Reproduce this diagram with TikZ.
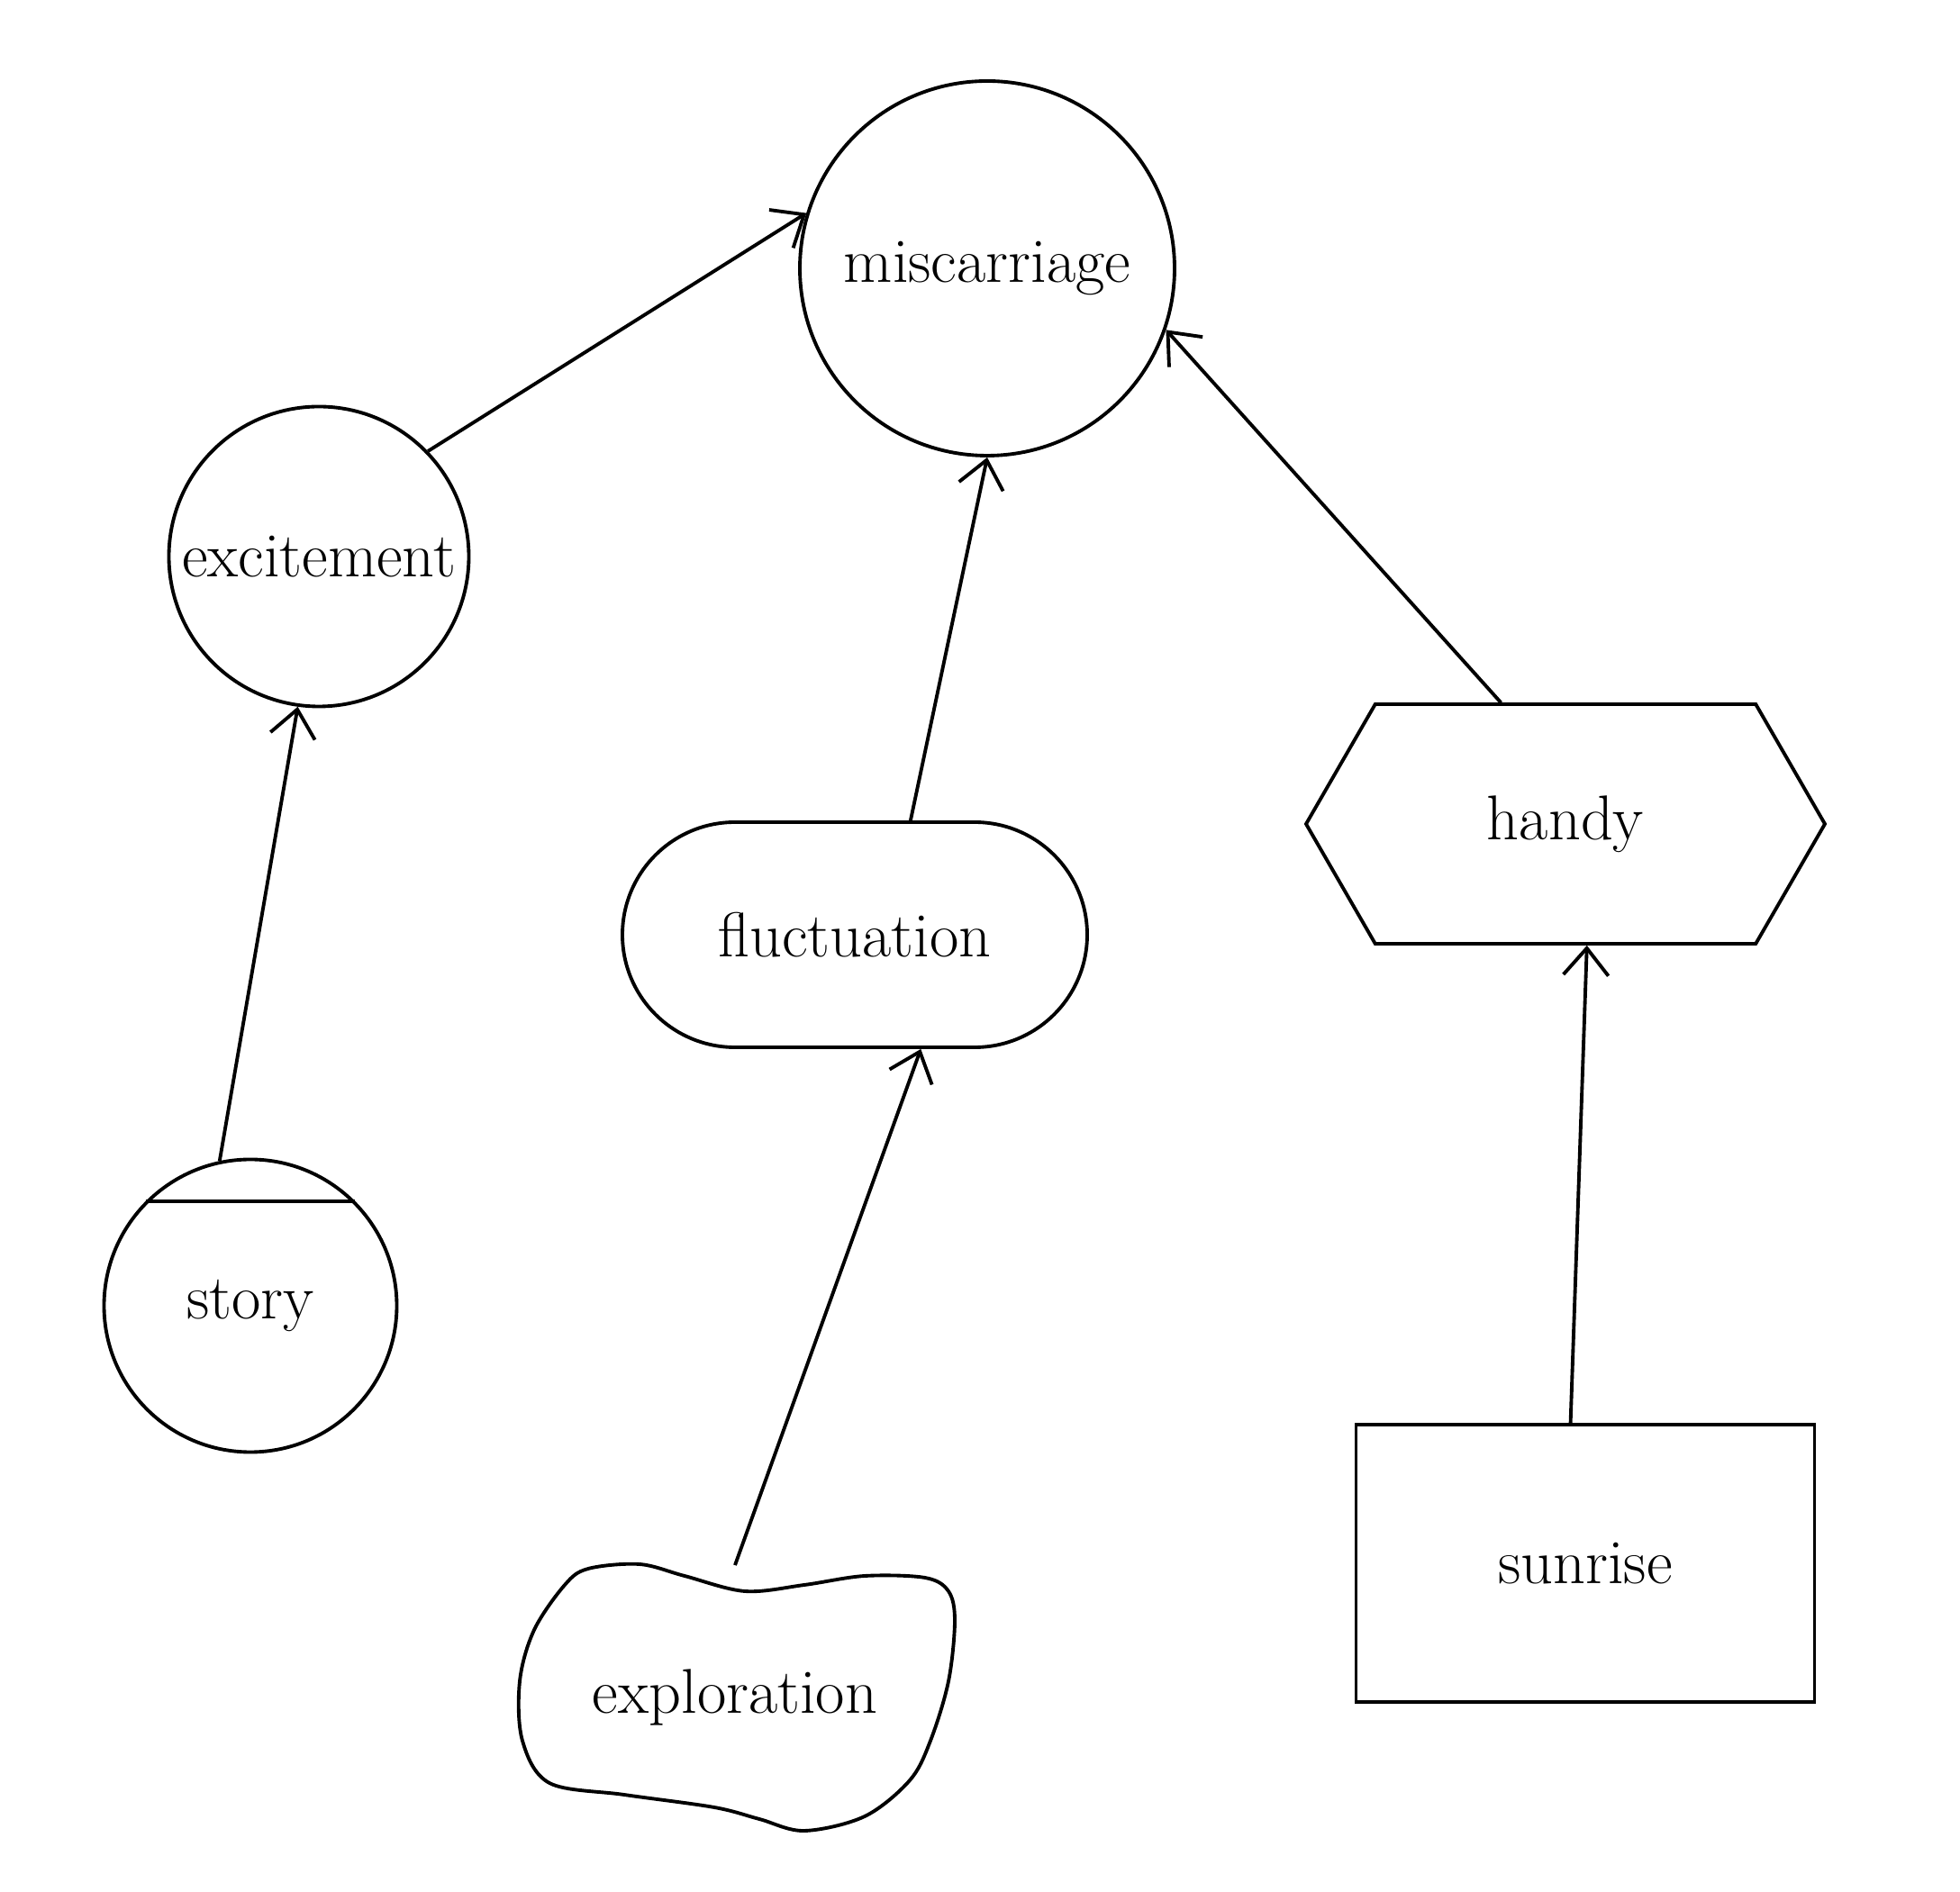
\documentclass[tikz,border=0pt]{standalone}
\usetikzlibrary{shapes.symbols,arrows.meta}

\begin{document}
\begin{tikzpicture}[line width=1.1pt,>={Straight Barb[length=3mm,width=5mm]},
  every node/.style={font=\fontsize{20}{24}\selectfont},
  ball/.style={draw,circle,inner sep=0pt},
  pill/.style={draw,rectangle,rounded corners=1.25cm,minimum width=5.16cm,minimum height=2.5cm},
  hexa/.style={draw,signal,signal to=east and west,signal pointer angle=120,minimum width=5.76cm,minimum height=2.66cm},
  plain/.style={draw,rectangle,minimum width=5.09cm,minimum height=3.08cm}]
\useasboundingbox (0,0) rectangle (21.76,21.01);
\node[ball,minimum size=4.16cm] (miscarriage) at (10.96,18.03) {miscarriage};
\node[ball,minimum size=3.33cm] (excitement) at (3.54,14.83) {excitement};
\node[ball,minimum size=3.25cm] (story) at (2.78,6.51) {story};
\draw (story.135) -- (story.45);
\node[pill] (fluctuation) at (9.49,10.63) {fluctuation};
\node[hexa] (handy) at (17.38,11.86) {handy};
\node[plain] (sunrise) at (17.60,3.65) {sunrise};
% blob round exploration
\node[minimum width=4.9cm,minimum height=2.9cm] (exploration) at (8.16,2.16) {exploration};
\draw plot[smooth cycle,tension=0.55] coordinates {(6.53,3.59) (7.10,3.64) (7.60,3.51) (8.27,3.34) (8.93,3.41) (9.60,3.51) (10.27,3.49) (10.53,3.34) (10.60,3.01) (10.53,2.34) (10.33,1.68) (10.10,1.24) (9.60,0.84) (8.93,0.68) (8.43,0.81) (7.93,0.94) (6.93,1.08) (6.10,1.21) (5.80,1.68) (5.77,2.34) (5.93,2.91) (6.27,3.41)};
\draw[arrows=->](excitement.44)--(miscarriage.163);
\draw[arrows=->](story.102)--(excitement.262);
\draw[arrows=->](fluctuation.64)--(miscarriage.270);
\draw[arrows=->](handy.118)--(miscarriage.341);
\draw[arrows=->](exploration.north)--(fluctuation.300);
\draw[arrows=->](sunrise.96)--(handy.280);
\end{tikzpicture}
\end{document}
